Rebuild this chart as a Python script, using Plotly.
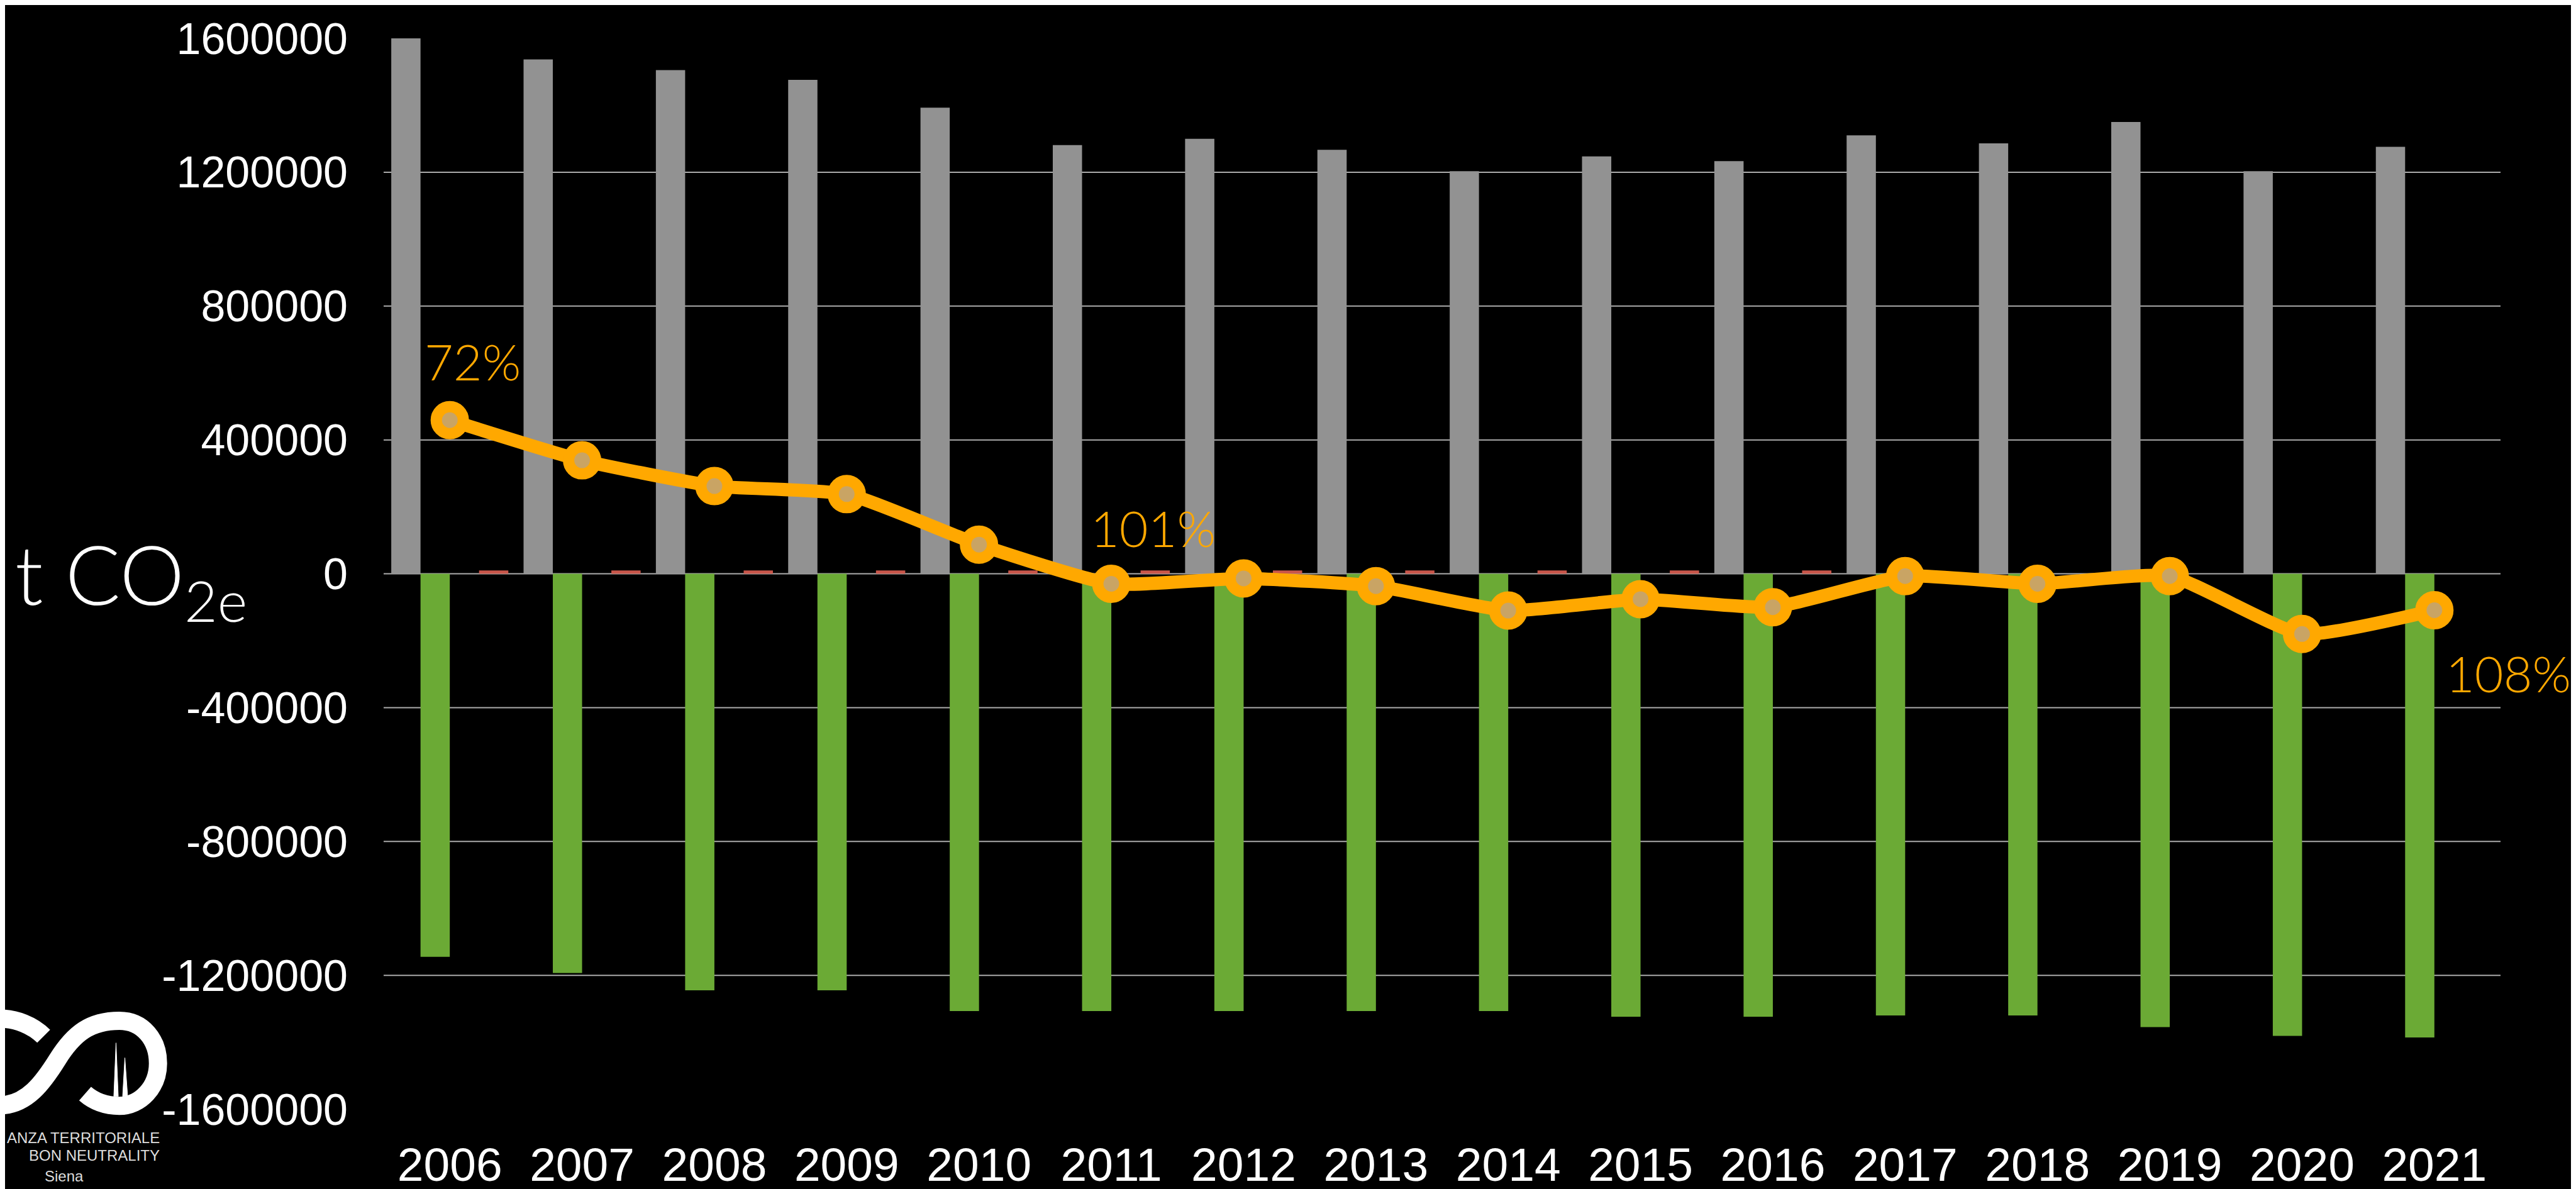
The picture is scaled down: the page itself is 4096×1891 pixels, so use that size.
import plotly.graph_objects as go

# ---------------- data ----------------
years = ["2006", "2007", "2008", "2009", "2010", "2011", "2012", "2013",
         "2014", "2015", "2016", "2017", "2018", "2019", "2020", "2021"]
emissions = [1600000, 1537000, 1505000, 1476000, 1393000, 1281000, 1300000, 1267000,
             1203000, 1247000, 1233000, 1310000, 1286000, 1350000, 1203000, 1276000]
absorptions = [-1145000, -1193000, -1245000, -1245000, -1307000, -1307000, -1307000, -1307000,
               -1307000, -1324000, -1324000, -1320000, -1320000, -1355000, -1381000, -1386000]
other = [10000, 10000, 10000, 10000, 10000, 10000, 10000, 10000,
         10000, 10000, 10000, 0, 0, 0, 0, 0]
net = [459000, 339000, 262000, 238000, 87000, -30000, -14000, -37000,
       -110000, -76000, -100000, -7000, -30000, -7000, -180000, -109000]
pct_labels = {"2006": "72%", "2011": "101%", "2021": "108%"}
y_ticks = [1600000, 1200000, 800000, 400000, 0, -400000, -800000, -1200000, -1600000]
grid_vals = [1200000, 800000, 400000, 0, -400000, -800000, -1200000]

# ---------------- geometry ----------------
S = 0.878
W, H = 4096, 1891
ML, MR, MT, MB = 602, 128, 53, 135
PW, PH = W - ML - MR, H - MT - MB


def px(xf):  # full-reference pixel -> paper x
    return (xf * S - ML) / PW


def py(yf):  # full-reference pixel -> paper y
    return 1 - (yf * S - MT) / PH


SLOT = 0.2212
fig = go.Figure()
fig.add_trace(go.Bar(x=years, y=emissions, marker_color="#929292", marker_line_width=0,
                     offset=-2 * SLOT, width=SLOT, name="Emissioni"))
fig.add_trace(go.Bar(x=years, y=absorptions, marker_color="#6BAA35", marker_line_width=0,
                     offset=-SLOT, width=SLOT, name="Assorbimenti"))
fig.add_trace(go.Bar(x=years, y=other, marker_color="#C9564A", marker_line_width=0,
                     offset=SLOT, width=SLOT, name="Altro"))
fig.add_trace(go.Scatter(x=years, y=net, mode="lines+markers", name="Bilancio",
                         line=dict(color="#FFA800", width=21, shape="spline", smoothing=0.5),
                         marker=dict(size=43, color="#C9A464", line=dict(color="#FFA800", width=18)),
                         cliponaxis=False))

for v in grid_vals:
    fig.add_hline(y=v, line=dict(color="#ABABAB", width=2), layer="below")

# percentage labels
shifts = {"2006": (36, 94), "2011": (66, 89), "2021": (118, -100)}
for yr, txt in pct_labels.items():
    i = years.index(yr)
    dx, dy = shifts[yr]
    fig.add_annotation(x=i, y=net[i], text=txt, showarrow=False,
                       xanchor="center", yanchor="middle", xshift=dx, yshift=dy,
                       font=dict(family="Lato", size=79, color="#FFA800", weight=300))

# unit label
fig.add_annotation(xref="paper", yref="y", x=px(16), y=0, xanchor="left", yanchor="middle",
                   text="t CO<sub>2e</sub>", showarrow=False, yshift=-8,
                   font=dict(family="Lato", size=130, color="white", weight=300))

# logo text
logo_font = dict(family="Liberation Sans", size=24, color="#DDDDDD")
fig.add_annotation(xref="paper", yref="paper", x=px(283), y=py(2052), text="ANZA TERRITORIALE",
                   xanchor="right", yanchor="middle", showarrow=False, font=logo_font)
fig.add_annotation(xref="paper", yref="paper", x=px(283), y=py(2084), text="BON NEUTRALITY",
                   xanchor="right", yanchor="middle", showarrow=False, font=logo_font)
fig.add_annotation(xref="paper", yref="paper", x=px(107), y=py(2121), text="Siena",
                   xanchor="center", yanchor="middle", showarrow=False, font=logo_font)


def path(pts_cmds):
    out = []
    for c in pts_cmds:
        if isinstance(c, str):
            out.append(c)
        else:
            out.append(f"{px(c[0]):.5f},{py(c[1]):.5f}")
    return " ".join(out)


logo_s = path(["M", (-10, 1993), "C", (40, 1993), (70, 1950), (95, 1910),
               "C", (125, 1862), (155, 1840), (207, 1840),
               "C", (250, 1840), (277, 1875), (277, 1917),
               "C", (277, 1960), (245, 1994), (207, 1994),
               "C", (180, 1994), (160, 1985), (145, 1972)])
logo_c = path(["M", (-10, 1836), "C", (20, 1836), (50, 1848), (70, 1868)])
spire1 = path(["M", (201, 1880), "L", (205, 1977), "L", (197, 1977), "Z"])
spire2 = path(["M", (217, 1907), "L", (222, 1977), "L", (213, 1977), "Z"])
for p in (logo_s, logo_c):
    fig.add_shape(type="path", path=p, xref="paper", yref="paper",
                  line=dict(color="white", width=29), layer="above")
for p in (spire1, spire2):
    fig.add_shape(type="path", path=p, xref="paper", yref="paper",
                  line=dict(color="white", width=1), fillcolor="white", layer="above")

fig.update_layout(
    width=W, height=H, paper_bgcolor="black", plot_bgcolor="black",
    margin=dict(l=ML, r=MR, t=MT, b=MB, autoexpand=False),
    showlegend=False, bargap=0.115,
    font=dict(family="Liberation Sans", color="white"),
)
fig.update_xaxes(type="category", range=[-0.5, 15.5], autorange=False,
                 showgrid=False, zeroline=False, showline=False,
                 ticks="", tickfont=dict(size=75, color="white"), ticklabelstandoff=38)
fig.update_yaxes(range=[-1600000, 1600000], autorange=False, tickvals=y_ticks,
                 ticktext=[str(v) for v in y_ticks],
                 showgrid=False, zeroline=False, showline=False, ticks="",
                 tickfont=dict(size=70, color="white"), ticklabelstandoff=56)

fig.write_html("out.html")
